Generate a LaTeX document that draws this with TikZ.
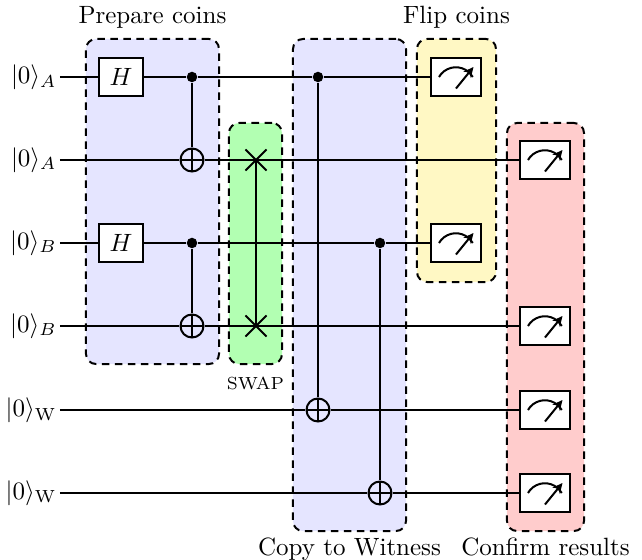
\documentclass[tikz,border=0pt]{standalone}
\usepackage{xcolor}
\usepackage{tikz}
\usetikzlibrary{positioning, arrows.meta, backgrounds, shapes.misc}

\definecolor{flipyellow}{HTML}{FFF8C4}

\begin{document}
\begin{tikzpicture}[x=0.4pt,y=-0.4pt,thick,
			ket/.style={anchor=base east,inner sep=1pt,yshift=-2.5pt},
			gate/.style={draw,fill=white,minimum width=17.6pt,minimum height=15.2pt,inner sep=0pt},
			ctrl/.style={circle,fill,minimum size=4.2pt,inner sep=0pt},
			target/.style={circle,draw,minimum size=9.2pt,inner sep=0pt,
				path picture={\draw (path picture bounding box.north) -- (path picture bounding box.south)
					(path picture bounding box.west) -- (path picture bounding box.east);}},
			swapx/.style={cross out,draw,minimum size=7.6pt,inner sep=0pt},
			meter/.style={draw,fill=white,minimum width=19.6pt,minimum height=15.2pt,inner sep=0pt,
				path picture={\draw ([xshift=-6.8pt]path picture bounding box.center) arc[start angle=150,end angle=30,radius=7.8pt];
					\draw[-{Stealth[length=4pt,width=3.8pt]}] ([yshift=-4.6pt]path picture bounding box.center) -- ++(7pt,8.6pt);}},
			group/.style={draw,thick,dash pattern=on 3pt off 2.2pt,rounded corners=4pt,inner sep=0pt}]
			
			\useasboundingbox (0,0) rectangle (642,560);
			
			% wire starts and labels
			\coordinate (s1) at (60,77);
			\coordinate (s2) at (60,160);
			\coordinate (s3) at (60,243);
			\coordinate (s4) at (60,326);
			\coordinate (s5) at (60,410);
			\coordinate (s6) at (60,493);
			\node[ket] (q1) at (s1) {$|0\rangle_A$};
			\node[ket] (q2) at (s2) {$|0\rangle_A$};
			\node[ket] (q3) at (s3) {$|0\rangle_B$};
			\node[ket] (q4) at (s4) {$|0\rangle_B$};
			\node[ket] (q5) at (s5) {$|0\rangle_{\mathrm{W}}$};
			\node[ket] (q6) at (s6) {$|0\rangle_{\mathrm{W}}$};
			
			% gates
			\node[gate] (h1) at (121,77) {$H$};
			\node[gate] (h2) at (121,243) {$H$};
			\node[ctrl] (c1) at (192,77) {};
			\node[target] (t1) at (192,160) {};
			\node[ctrl] (c2) at (192,243) {};
			\node[target] (t2) at (192,326) {};
			\node[swapx] (x1) at (256,160) {};
			\node[swapx] (x2) at (256,326) {};
			\node[ctrl] (c3) at (318,77) {};
			\node[target] (t3) at (318,410) {};
			\node[ctrl] (c4) at (380,243) {};
			\node[target] (t4) at (380,493) {};
			\node[meter] (f1) at (456,77) {};
			\node[meter] (f2) at (456,243) {};
			\node[meter] (r2) at (545,160) {};
			\node[meter] (r4) at (545,326) {};
			\node[meter] (r5) at (545,410) {};
			\node[meter] (r6) at (545,493) {};
			
			% wires
			\draw (s1) -- (h1) -- (c1) -- (c3) -- (f1);
			\draw (s2) -- (t1) -- (x1.center) -- (r2);
			\draw (s3) -- (h2) -- (c2) -- (c4) -- (f2);
			\draw (s4) -- (t2) -- (x2.center) -- (r4);
			\draw (s5) -- (t3) -- (r5);
			\draw (s6) -- (t4) -- (r6);
			\draw (c1) -- (t1) (c2) -- (t2) (x1.center) -- (x2.center) (c3) -- (t3) (c4) -- (t4);
			
			% groups
			\begin{scope}[on background layer]
				\node[group,fill=blue!10,minimum width=53.2pt,minimum height=130pt] (prep) at (152.5,201.5) {};
				\node[group,fill=green!30,minimum width=21.2pt,minimum height=96.4pt] (swap) at (255.5,243.5) {};
				\node[group,fill=blue!10,minimum width=45.2pt,minimum height=196.8pt] (copy) at (349.5,285) {};
				\node[group,fill=flipyellow,minimum width=31.6pt,minimum height=97.2pt] (flip) at (456.5,160.5) {};
				\node[group,fill=red!20,minimum width=30.8pt,minimum height=163.2pt] (conf) at (545.5,327) {};
			\end{scope}
			
			\node[above=0pt of prep] (lprep) {Prepare coins};
			\node[below=1pt of swap,font=\scriptsize] (lswap) {SWAP};
			\node[below=-1.2pt of copy] (lcopy) {Copy to Witness};
			\node[above=0pt of flip] (lflip) {Flip coins};
			\node[below=-1.2pt of conf] (lconf) {Confirm results};
		\end{tikzpicture}
\end{document}
